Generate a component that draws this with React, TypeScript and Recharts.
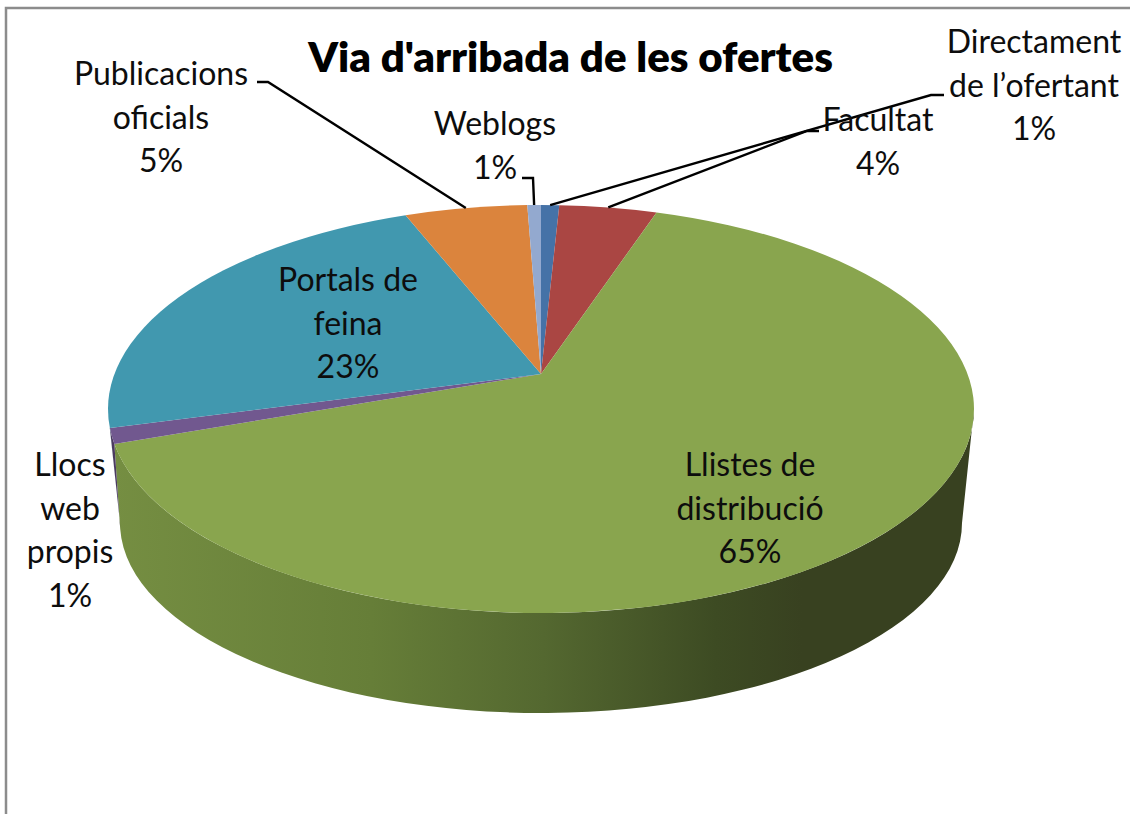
import React from "react";
import { PieChart, Pie, Cell } from "recharts";

const TITLE = "Via d'arribada de les ofertes";

const CATEGORIES = [
  "Directament de l’ofertant",
  "Facultat",
  "Llistes de distribució",
  "Llocs web propis",
  "Portals de feina",
  "Publicacions oficials",
  "Weblogs",
];
// estimated from the slice boundaries, the labels round them
const VALUES = [0.8, 4.3, 64.5, 1.2, 23.2, 5.4, 0.6];
const COLORS = ["#4572a7", "#aa4643", "#89a54e", "#71588f", "#4198af", "#db843d", "#93a9cf"];
const WALL_COLORS = ["#2e4c70", "#722f2d", "url(#greenWall)", "#4b3a60", "#2b6575", "#934f1a", "#62718a"];

const LABEL_LINES = [
  ["Directament", "de l’ofertant"],
  ["Facultat"],
  ["Llistes de", "distribució"],
  ["Llocs", "web", "propis"],
  ["Portals de", "feina"],
  ["Publicacions", "oficials"],
  ["Weblogs"],
];

// label block placement: centre x, first baseline
const LABEL_POS = [
  [1034, 53],
  [878, 131],
  [750, 476],
  [70, 476],
  [348, 291],
  [161, 85],
  [495, 135],
];
const LINE_HEIGHT = 43.5;

// leader lines: text end, elbow
const LEADERS: Record<number, number[][]> = {
  0: [[944, 95], [931, 95]],
  1: [[819, 131], [807, 131]],
  5: [[257, 82], [268, 82]],
  6: [[522, 178], [533, 178]],
};

const CX = 541;
const CY = 409;
const RX = 433;
const RY = 204;
const APEX_Y = 374;
const BOTTOM = { cy: 523, rx: 421, ry: 190 };
const FRONT_END = 175;
const WALL_GREEN_END = 170;

const data = CATEGORIES.map((name, i) => ({ name, value: VALUES[i] }));
const total = VALUES.reduce((s, v) => s + v, 0);

// the 3D view: circle angle -> angle on the ellipse, with the pie centre pushed up
const klein = (CY - APEX_Y) / RY;
const shift = klein / (1 + Math.sqrt(1 - klein * klein));

function toEllipseAngle(rechartsAngle: number) {
  const a = (-rechartsAngle * Math.PI) / 180;
  const x = Math.cos(a);
  const y = Math.sin(a);
  const nx = x;
  const ny = y - shift;
  const dx = 1 - shift * y;
  const dy = shift * x;
  const d = dx * dx + dy * dy;
  const wx = (nx * dx + ny * dy) / d;
  const wy = (ny * dx - nx * dy) / d;
  return (Math.atan2(wy, wx) * 180) / Math.PI;
}

function onTop(deg: number) {
  const r = (deg * Math.PI) / 180;
  return [CX + RX * Math.cos(r), CY + RY * Math.sin(r)];
}

function onBottom(deg: number) {
  const b = Math.min(180, (deg * 178) / WALL_GREEN_END);
  const r = (b * Math.PI) / 180;
  return [CX + BOTTOM.rx * Math.cos(r), BOTTOM.cy + BOTTOM.ry * Math.sin(r)];
}

function Slice3D(props: any) {
  const { startAngle, endAngle, fill, index } = props;
  const a1 = toEllipseAngle(startAngle);
  let a2 = toEllipseAngle(endAngle);
  if (a2 < a1) a2 += 360;
  const p1 = onTop(a1);
  const p2 = onTop(a2);
  const large = a2 - a1 > 180 ? 1 : 0;
  const face = `M${CX},${APEX_Y} L${p1[0]},${p1[1]} A${RX},${RY} 0 ${large} 1 ${p2[0]},${p2[1]} Z`;

  const lo = Math.max(a1, 0);
  const hi = Math.min(a2, FRONT_END);
  let wall = null;
  if (lo < hi) {
    const t1 = onTop(lo);
    const t2 = onTop(hi);
    const b1 = onBottom(lo);
    const b2 = onBottom(hi);
    wall = (
      <path
        d={`M${t1[0]},${t1[1]} A${RX},${RY} 0 0 1 ${t2[0]},${t2[1]} L${b2[0]},${b2[1]} A${BOTTOM.rx},${BOTTOM.ry} 0 0 0 ${b1[0]},${b1[1]} Z`}
        fill={WALL_COLORS[index]}
      />
    );
  }
  return (
    <g>
      {wall}
      <path d={face} fill={fill} />
    </g>
  );
}

function renderLabel(props: any) {
  const { index, midAngle } = props;
  const [x, y] = LABEL_POS[index];
  const lines = [...LABEL_LINES[index], `${Math.round((VALUES[index] / total) * 100)}%`];
  const leader = LEADERS[index];
  let line = null;
  if (leader) {
    const end = onTop(toEllipseAngle(midAngle));
    const pts = [...leader, end].map((p) => p.join(",")).join(" ");
    line = <polyline points={pts} fill="none" stroke="#000" strokeWidth={2.4} />;
  }
  return (
    <g key={index}>
      {line}
      <text x={x} y={y} textAnchor="middle" fontFamily="Lato" fontSize={32} fill="#0d0d0d">
        {lines.map((l, i) => (
          <tspan key={i} x={x} y={y + i * LINE_HEIGHT}>
            {l}
          </tspan>
        ))}
      </text>
    </g>
  );
}

export default function App() {
  return (
    <div style={{ position: "absolute", left: 0, top: 0, width: 1130, height: 814, background: "#fff" }}>
      <PieChart width={1130} height={814} margin={{ top: 0, right: 0, bottom: 0, left: 0 }}>
        <defs>
          <linearGradient id="greenWall" gradientUnits="userSpaceOnUse" x1={113} y1={0} x2={974} y2={0}>
            <stop offset="0" stopColor="#758e42" />
            <stop offset="0.3" stopColor="#667e38" />
            <stop offset="0.5" stopColor="#546830" />
            <stop offset="0.7" stopColor="#3d4b23" />
            <stop offset="0.8" stopColor="#384120" />
            <stop offset="1" stopColor="#384120" />
          </linearGradient>
        </defs>
        <path d="M6,814 L6,8 L1130,8" fill="none" stroke="#8c8c8c" strokeWidth={2.5} />
        <text x={570.5} y={72} textAnchor="middle" fontFamily="Lato" fontWeight={800} fontSize={42} fill="#000">
          {TITLE}
        </text>
        <Pie
          data={data}
          dataKey="value"
          nameKey="name"
          cx={CX}
          cy={CY}
          outerRadius={RX}
          startAngle={90}
          endAngle={-270}
          stroke="none"
          paddingAngle={0}
          shape={Slice3D}
          label={renderLabel}
          labelLine={false}
          isAnimationActive={false}
        >
          {data.map((_, index) => (
            <Cell key={`cell-${index}`} fill={COLORS[index]} />
          ))}
        </Pie>
      </PieChart>
    </div>
  );
}
